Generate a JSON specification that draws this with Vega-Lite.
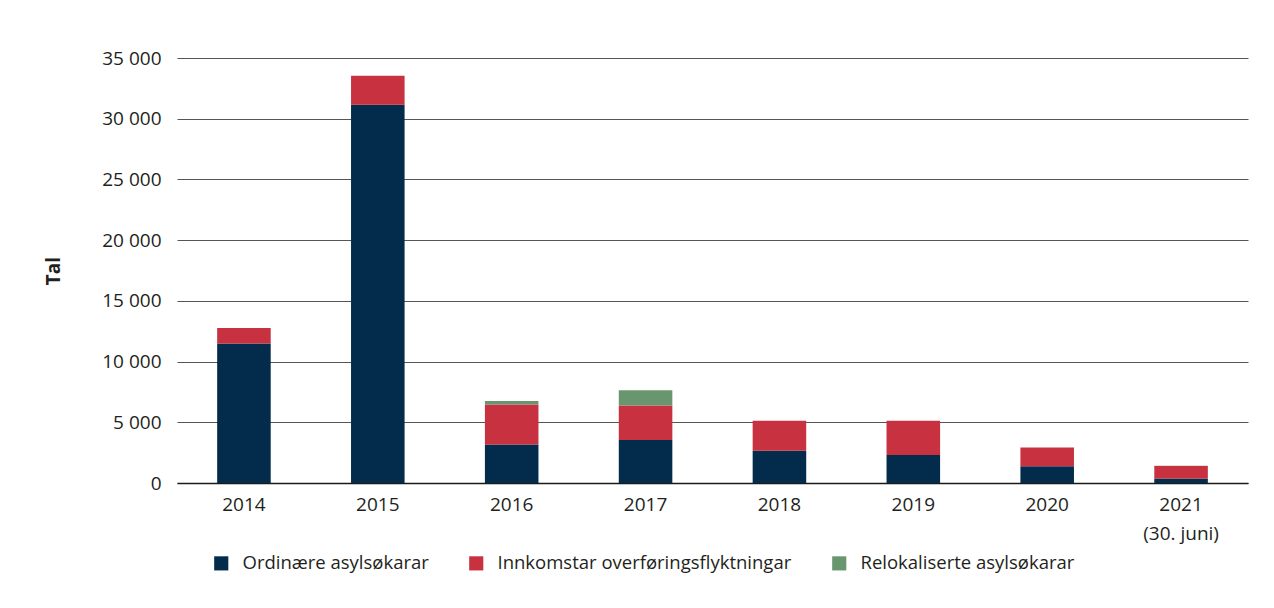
{
  "$schema": "https://vega.github.io/schema/vega-lite/v6.json",
  "width": 1071,
  "height": 425,
  "autosize": "none",
  "padding": {"left": 177, "top": 58, "right": 26, "bottom": 125},
  "background": "white",
  "config": {
    "font": "Open Sans",
    "view": {"stroke": null},
    "axis": {"labelFont": "Open Sans", "titleFont": "Open Sans", "labelColor": "#231f20", "titleColor": "#231f20"},
    "legend": {"labelFont": "Open Sans"}
  },
  "data": {
    "values": [
      {"year": "2014", "type": "Ordinære asylsøkarar", "n": 11480},
      {"year": "2014", "type": "Innkomstar overføringsflyktningar", "n": 1286},
      {"year": "2014", "type": "Relokaliserte asylsøkarar", "n": 0},
      {"year": "2015", "type": "Ordinære asylsøkarar", "n": 31145},
      {"year": "2015", "type": "Innkomstar overføringsflyktningar", "n": 2383},
      {"year": "2015", "type": "Relokaliserte asylsøkarar", "n": 0},
      {"year": "2016", "type": "Ordinære asylsøkarar", "n": 3170},
      {"year": "2016", "type": "Innkomstar overføringsflyktningar", "n": 3290},
      {"year": "2016", "type": "Relokaliserte asylsøkarar", "n": 290},
      {"year": "2017", "type": "Ordinære asylsøkarar", "n": 3540},
      {"year": "2017", "type": "Innkomstar overføringsflyktningar", "n": 2850},
      {"year": "2017", "type": "Relokaliserte asylsøkarar", "n": 1240},
      {"year": "2018", "type": "Ordinære asylsøkarar", "n": 2655},
      {"year": "2018", "type": "Innkomstar overføringsflyktningar", "n": 2470},
      {"year": "2018", "type": "Relokaliserte asylsøkarar", "n": 0},
      {"year": "2019", "type": "Ordinære asylsøkarar", "n": 2305},
      {"year": "2019", "type": "Innkomstar overføringsflyktningar", "n": 2830},
      {"year": "2019", "type": "Relokaliserte asylsøkarar", "n": 0},
      {"year": "2020", "type": "Ordinære asylsøkarar", "n": 1386},
      {"year": "2020", "type": "Innkomstar overføringsflyktningar", "n": 1540},
      {"year": "2020", "type": "Relokaliserte asylsøkarar", "n": 0},
      {"year": "2021", "type": "Ordinære asylsøkarar", "n": 380},
      {"year": "2021", "type": "Innkomstar overføringsflyktningar", "n": 1020},
      {"year": "2021", "type": "Relokaliserte asylsøkarar", "n": 20}
    ]
  },
  "transform": [
    {"calculate": "indexof(['Ordinære asylsøkarar','Innkomstar overføringsflyktningar','Relokaliserte asylsøkarar'], datum.type)", "as": "stackOrder"}
  ],
  "mark": {"type": "bar"},
  "encoding": {
    "x": {
      "field": "year",
      "type": "nominal",
      "scale": {"paddingInner": 0.6, "paddingOuter": 0.3},
      "axis": {
        "title": null,
        "labelAngle": 0,
        "labelFontSize": 19,
        "labelPadding": 12,
        "labelLineHeight": 29,
        "ticks": false,
        "domainColor": "#1a1a1a",
        "domainWidth": 1.5,
        "labelExpr": "datum.label == '2021' ? ['2021', '(30. juni)'] : datum.label"
      }
    },
    "y": {
      "field": "n",
      "type": "quantitative",
      "stack": "zero",
      "scale": {"domain": [0, 35000], "nice": false},
      "axis": {
        "title": "Tal",
        "titleFontSize": 19,
        "titleFontWeight": "bold",
        "titlePadding": 38,
        "labelFontSize": 19,
        "labelPadding": 16,
        "values": [0, 5000, 10000, 15000, 20000, 25000, 30000, 35000],
        "labelExpr": "replace(format(datum.value, ','), ',', ' ')",
        "domain": false,
        "ticks": false,
        "grid": true,
        "gridColor": "#555555",
        "gridWidth": 1
      }
    },
    "color": {
      "field": "type",
      "type": "nominal",
      "scale": {
        "domain": ["Ordinære asylsøkarar", "Innkomstar overføringsflyktningar", "Relokaliserte asylsøkarar"],
        "range": ["#032b4b", "#c73140", "#69966f"]
      },
      "legend": {
        "title": null,
        "orient": "none",
        "direction": "horizontal",
        "legendX": 35,
        "legendY": 496,
        "symbolType": "square",
        "symbolSize": 200,
        "symbolStrokeWidth": 0,
        "labelFontSize": 18.5,
        "labelColor": "#231f20",
        "labelOffset": 12,
        "columnPadding": 38,
        "labelLimit": 400
      }
    },
    "order": {"field": "stackOrder", "type": "quantitative"}
  }
}
